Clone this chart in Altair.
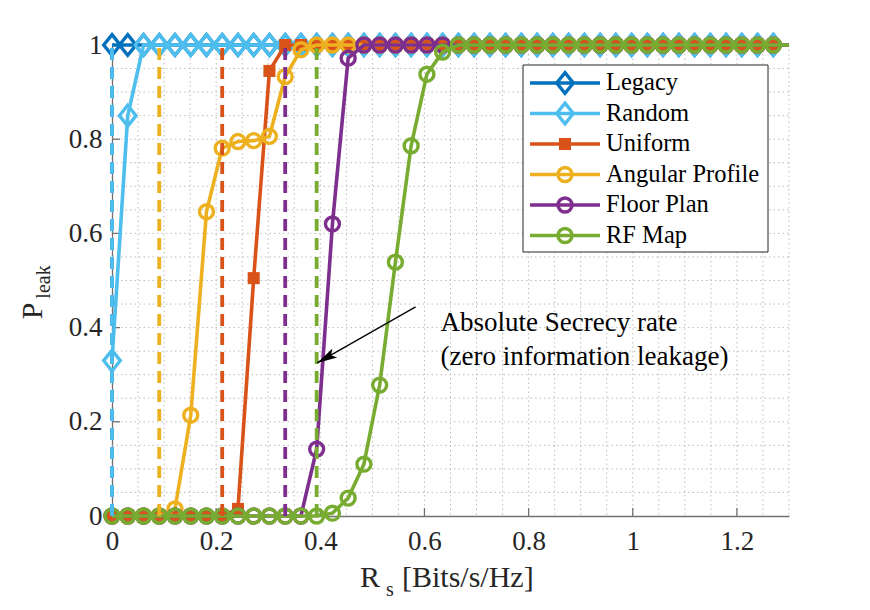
import altair as alt
import pandas as pd

# ---------------- data ----------------
rate = [0.0, 0.0302, 0.0605, 0.0907, 0.1209, 0.1512, 0.1814, 0.2116, 0.2419, 0.2721,
        0.3023, 0.3326, 0.3628, 0.3930, 0.4233, 0.4535, 0.4837, 0.5140, 0.5442, 0.5744,
        0.6047, 0.6349, 0.6651, 0.6953, 0.7256, 0.7558, 0.7860, 0.8163, 0.8465, 0.8767,
        0.9070, 0.9372, 0.9674, 0.9977, 1.0279, 1.0581, 1.0884, 1.1186, 1.1488, 1.1791,
        1.2093, 1.2395, 1.2698, 1.3]

legacy = [1.0] * 44
random_ = [0.33, 0.85] + [1.0] * 42
uniform = [0.0] * 8 + [0.015, 0.505, 0.945] + [1.0] * 33
angular = [0.0] * 4 + [0.015, 0.214, 0.646, 0.781, 0.795, 0.797, 0.806, 0.933, 0.99] + [1.0] * 31
floorplan = [0.0] * 13 + [0.142, 0.62, 0.972] + [1.0] * 28
rfmap = [0.0] * 14 + [0.006, 0.038, 0.11, 0.278, 0.539, 0.786, 0.938, 0.985] + [1.0] * 22

names = ["Legacy", "Random", "Uniform", "Angular Profile", "Floor Plan", "RF Map"]
series = [legacy, random_, uniform, angular, floorplan, rfmap]
colors = ["#0072BD", "#4DBEEE", "#D95319", "#EDB120", "#7E2F8E", "#77AC30"]
abs_rate = [0.0, 0.0, 0.2116, 0.0907, 0.3326, 0.3930]   # absolute secrecy rate per scheme

x_ticks = [0, 0.2, 0.4, 0.6, 0.8, 1.0, 1.2]
y_ticks = [0, 0.2, 0.4, 0.6, 0.8, 1.0]
grid_x = [0.05, 0.1, 0.15, 0.2, 0.25, 0.3, 0.35, 0.4, 0.45, 0.5, 0.55, 0.6, 0.65,
          0.7, 0.75, 0.8, 0.85, 0.9, 0.95, 1.0, 1.05, 1.1, 1.15, 1.2, 1.25, 1.3]
grid_y = [0.05, 0.1, 0.15, 0.2, 0.25, 0.3, 0.35, 0.4, 0.45, 0.5, 0.55, 0.6, 0.65,
          0.7, 0.75, 0.8, 0.85, 0.9, 0.95, 1.0]

note_lines = ["Absolute Secrecy rate", "(zero information leakage)"]
note_x = [0.631, 0.631]
note_y = [0.410, 0.338]
arrow_tail = [0.583, 0.444]
arrow_tip = [0.394, 0.325]

# ---------------- styling ----------------
W, H = 677, 471
FONT = "Liberation Serif"
TXT = "#262626"
AX = "#707070"

DIAMOND = "M0,-1L0.8,0L0,1L-0.8,0Z"
ARROWHEAD = "M0,0L-0.5,2L0,1.6L0.5,2Z"
shape_of = {"Legacy": (DIAMOND, False, 430), "Random": (DIAMOND, False, 430),
            "Uniform": ("square", True, 145), "Angular Profile": ("circle", False, 195),
            "Floor Plan": ("circle", False, 195), "RF Map": ("circle", False, 195)}

xs = alt.Scale(domain=[0, 1.3], nice=False, zero=False)
ys = alt.Scale(domain=[0, 1], nice=False, zero=False)
xaxis = alt.Axis(values=x_ticks, format="~g", ticks=False, grid=False, domainColor=AX,
                 domainWidth=1.3, labelFont=FONT, labelFontSize=27, labelColor=TXT,
                 labelPadding=12, labelFlush=False, labelOverlap=False)
yaxis = alt.Axis(values=y_ticks, format="~g", ticks=False, grid=False, domainColor=AX,
                 domainWidth=1.3, labelFont=FONT, labelFontSize=27, labelColor=TXT,
                 labelPadding=10, labelFlush=False, labelOverlap=False)


def X(f):
    return alt.X(f, type="quantitative", scale=xs, axis=xaxis, title=None)


def Y(f):
    return alt.Y(f, type="quantitative", scale=ys, axis=yaxis, title=None)


layers = []

# grid (dotted, major+minor)
gx = pd.DataFrame({"g": grid_x})
gy = pd.DataFrame({"g": grid_y})
layers.append(alt.Chart(gx).mark_rule(color="#bdbdbd", strokeWidth=1, strokeDash=[1.5, 3]).encode(
    x=X("g"), y=alt.value(0), y2=alt.value(H)))
layers.append(alt.Chart(gy).mark_rule(color="#bdbdbd", strokeWidth=1, strokeDash=[1.5, 3]).encode(
    y=Y("g"), x=alt.value(0), x2=alt.value(W)))

# inward ticks
layers.append(alt.Chart(pd.DataFrame({"t": x_ticks})).mark_rule(color=AX, strokeWidth=1.3).encode(
    x=X("t"), y=alt.value(H), y2=alt.value(H - 8)))
layers.append(alt.Chart(pd.DataFrame({"t": y_ticks})).mark_rule(color=AX, strokeWidth=1.3).encode(
    y=Y("t"), x=alt.value(0), x2=alt.value(8)))

# series: line + markers
for name, vals, col in zip(names, series, colors):
    df = pd.DataFrame({"rate": rate, "p": vals})
    base = alt.Chart(df)
    layers.append(base.mark_line(color=col, strokeWidth=3.6).encode(x=X("rate"), y=Y("p")))
    shp, filled, size = shape_of[name]
    layers.append(base.transform_filter("datum.rate < 1.29").mark_point(
        shape=shp, filled=filled, size=size, strokeWidth=3.4 if not filled else 2,
        color=col, opacity=1).encode(x=X("rate"), y=Y("p")))

# dashed absolute-secrecy-rate lines
for name, r, col in zip(names, abs_rate, colors):
    d = pd.DataFrame({"r": [r], "lo": [0.0], "hi": [1.0]})
    layers.append(alt.Chart(d).mark_rule(color=col, strokeWidth=3.8, strokeDash=[12, 7]).encode(
        x=X("r"), y=Y("lo"), y2="hi"))

# annotation text + arrow
nd = pd.DataFrame({"t": note_lines, "x": note_x, "y": note_y})
layers.append(alt.Chart(nd).mark_text(font=FONT, fontSize=27, color="black", align="left",
                                       baseline="middle").encode(x=X("x"), y=Y("y"), text="t:N"))
ad = pd.DataFrame({"x": [arrow_tail[0]], "y": [arrow_tail[1]],
                   "x2": [arrow_tip[0]], "y2": [arrow_tip[1]]})
layers.append(alt.Chart(ad).mark_rule(color="black", strokeWidth=1.3).encode(
    x=X("x"), y=Y("y"), x2="x2", y2="y2"))
layers.append(alt.Chart(ad).mark_point(shape=ARROWHEAD, filled=True, size=400, angle=241,
                                        color="black", opacity=1).encode(x=X("x2"), y=Y("y2")))


# axis titles (with subscripts)
def label(txt, x, y, size, angle=0, align="center"):
    props = dict(font=FONT, fontSize=size, color=TXT, align=align, baseline="middle")
    if angle:
        props["angle"] = angle
    return alt.Chart(pd.DataFrame({"t": [txt]})).mark_text(**props).encode(
        x=alt.value(x), y=alt.value(y), text="t:N")


layers.append(label("R", 258, 533, 30))
layers.append(label("s", 278, 545, 20))
layers.append(label("[Bits/s/Hz]", 290, 533, 30, align="left"))
layers.append(label("P", -79, 266, 30, angle=270))
layers.append(label("leak", -68, 237, 20, angle=270))

# custom legend
LX0, LX1, LY0, LY1 = 411, 656, 20, 207
layers.append(alt.Chart(pd.DataFrame({"a": [0]})).mark_rect(
    fill="white", stroke="#262626", strokeWidth=1).encode(
    x=alt.value(LX0), x2=alt.value(LX1), y=alt.value(LY0), y2=alt.value(LY1)))
for k, (name, col) in enumerate(zip(names, colors)):
    ly = 38 + 30.5 * k
    one = pd.DataFrame({"t": [name]})
    layers.append(alt.Chart(one).mark_rule(color=col, strokeWidth=3.6).encode(
        x=alt.value(418), x2=alt.value(488), y=alt.value(ly)))
    shp, filled, size = shape_of[name]
    layers.append(alt.Chart(one).mark_point(shape=shp, filled=filled, size=size,
                                             strokeWidth=3.4 if not filled else 2,
                                             color=col, opacity=1).encode(
        x=alt.value(453), y=alt.value(ly)))
    layers.append(alt.Chart(one).mark_text(font=FONT, fontSize=24.5, color="black", align="left",
                                            baseline="middle").encode(
        x=alt.value(494), y=alt.value(ly), text="t:N"))

chart = alt.layer(*layers).properties(
    width=W, height=H,
    padding={"left": 104, "top": 37, "right": 60, "bottom": 86},
    autosize=alt.AutoSizeParams(type="none"),
    background="white",
).configure_view(stroke=None)

chart.save("out.html", embed_options={"renderer": "svg", "actions": False})
